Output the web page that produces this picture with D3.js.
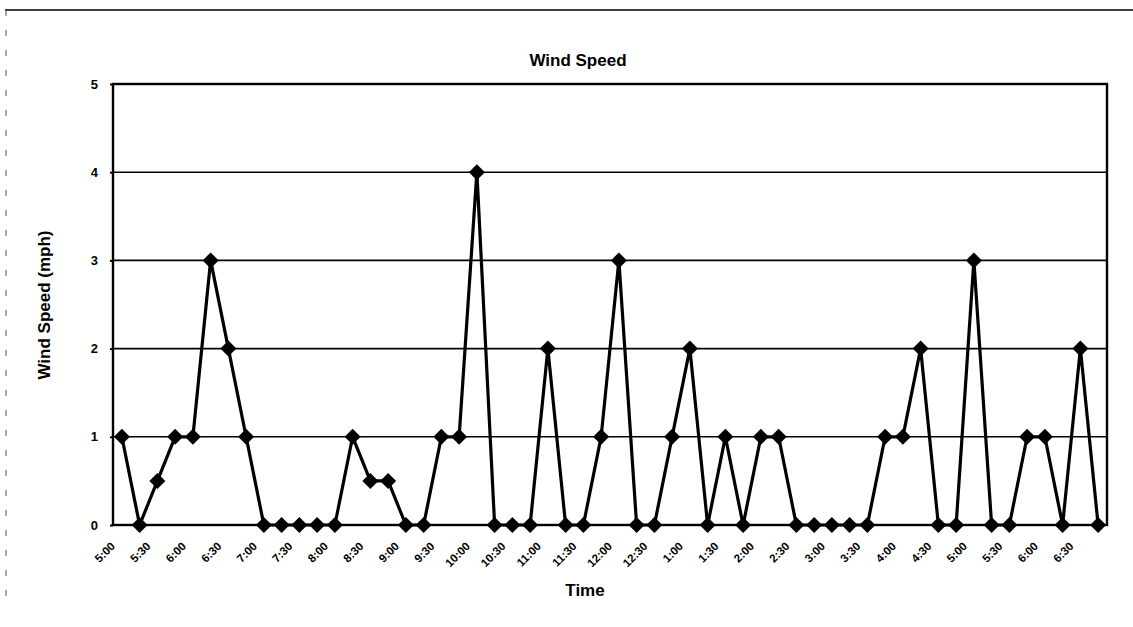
<!DOCTYPE html>
<html><head><meta charset="utf-8">
<script src="https://cdn.jsdelivr.net/npm/d3@7"></script>
<style>
html,body{margin:0;padding:0;background:#fff;}
</style></head>
<body><svg id="c" width="1133" height="627" font-family="Liberation Sans, Arial, sans-serif"></svg>
<script>
const categories = ["5:00","5:15","5:30","5:45","6:00","6:15","6:30","6:45","7:00","7:15","7:30","7:45","8:00","8:15","8:30","8:45","9:00","9:15","9:30","9:45","10:00","10:15","10:30","10:45","11:00","11:15","11:30","11:45","12:00","12:15","12:30","12:45","1:00","1:15","1:30","1:45","2:00","2:15","2:30","2:45","3:00","3:15","3:30","3:45","4:00","4:15","4:30","4:45","5:00 ","5:15 ","5:30 ","5:45 ","6:00 ","6:15 ","6:30 ","6:45 "];
const windSpeed = [1,0,0.5,1,1,3,2,1,0,0,0,0,0,1,0.5,0.5,0,0,1,1,4,0,0,0,2,0,0,1,3,0,0,1,2,0,1,0,1,1,0,0,0,0,0,1,1,2,0,0,3,0,0,1,1,0,2,0];
const tickLabels = ["5:00","5:30","6:00","6:30","7:00","7:30","8:00","8:30","9:00","9:30","10:00","10:30","11:00","11:30","12:00","12:30","1:00","1:30","2:00","2:30","3:00","3:30","4:00","4:30","5:00 ","5:30 ","6:00 ","6:30 "];
const yTicks = [0,1,2,3,4,5];

const svg = d3.select("#c");
const L=113, R=1107, T=84, B=525;
const x = d3.scaleBand().domain(categories).range([L,R]).padding(0);
const y = d3.scaleLinear().domain([0,5]).range([B,T]);
const cx = d => x(d) + x.bandwidth()/2;

// outer frame
svg.append("line").attr("x1",5).attr("x2",1133).attr("y1",10).attr("y2",10).attr("stroke","#000").attr("stroke-width",1.5);
svg.append("line").attr("x1",6).attr("x2",6).attr("y1",10).attr("y2",600).attr("stroke","#555").attr("stroke-width",1).attr("stroke-dasharray","6,14");

// gridlines
svg.append("g").selectAll("line").data(yTicks.filter(v=>v>0&&v<5)).join("line")
  .attr("x1",L).attr("x2",R).attr("y1",d=>y(d)).attr("y2",d=>y(d))
  .attr("stroke","#000").attr("stroke-width",1.6);

// plot frame
svg.append("rect").attr("x",L).attr("y",T).attr("width",R-L).attr("height",B-T)
  .attr("fill","none").attr("stroke","#000").attr("stroke-width",2.4);

// y axis
const ya = svg.append("g").attr("transform",`translate(${L},0)`)
  .call(d3.axisLeft(y).tickValues(yTicks).tickSize(3).tickPadding(12).tickFormat(d3.format("d")));
ya.select(".domain").remove();
ya.selectAll("line").attr("stroke","#000").attr("stroke-width",2);
ya.selectAll("text").attr("font-size",13).attr("font-weight","bold").attr("fill","#000").attr("font-family","Liberation Sans, Arial, sans-serif");

// x tick labels, rotated
svg.append("g").selectAll("text").data(tickLabels).join("text")
  .attr("transform",d=>`translate(${cx(d)-6},${B+22}) rotate(-45)`)
  .attr("font-size",11.5).attr("font-weight","bold").attr("fill","#000")
  .attr("text-anchor","end")
  .text(d=>d.trim());

// line
const line = d3.line().x((d,i)=>cx(categories[i])).y(d=>y(d));
svg.append("path").datum(windSpeed).attr("d",line)
  .attr("fill","none").attr("stroke","#000").attr("stroke-width",3.2).attr("stroke-linejoin","miter");

// diamond markers
const s = 8;
svg.append("g").selectAll("path").data(windSpeed).join("path")
  .attr("d",`M0,${-s}L${s},0L0,${s}L${-s},0Z`)
  .attr("transform",(d,i)=>`translate(${cx(categories[i])},${y(d)})`)
  .attr("fill","#000");

// titles
svg.append("text").attr("x",578).attr("y",66).attr("text-anchor","middle")
  .attr("font-size",17).attr("font-weight","bold").text("Wind Speed");
svg.append("text").attr("transform","translate(50,305) rotate(-90)").attr("text-anchor","middle")
  .attr("font-size",17).attr("font-weight","bold").text("Wind Speed (mph)");
svg.append("text").attr("x",585).attr("y",596).attr("text-anchor","middle")
  .attr("font-size",17).attr("font-weight","bold").text("Time");
</script></body></html>
